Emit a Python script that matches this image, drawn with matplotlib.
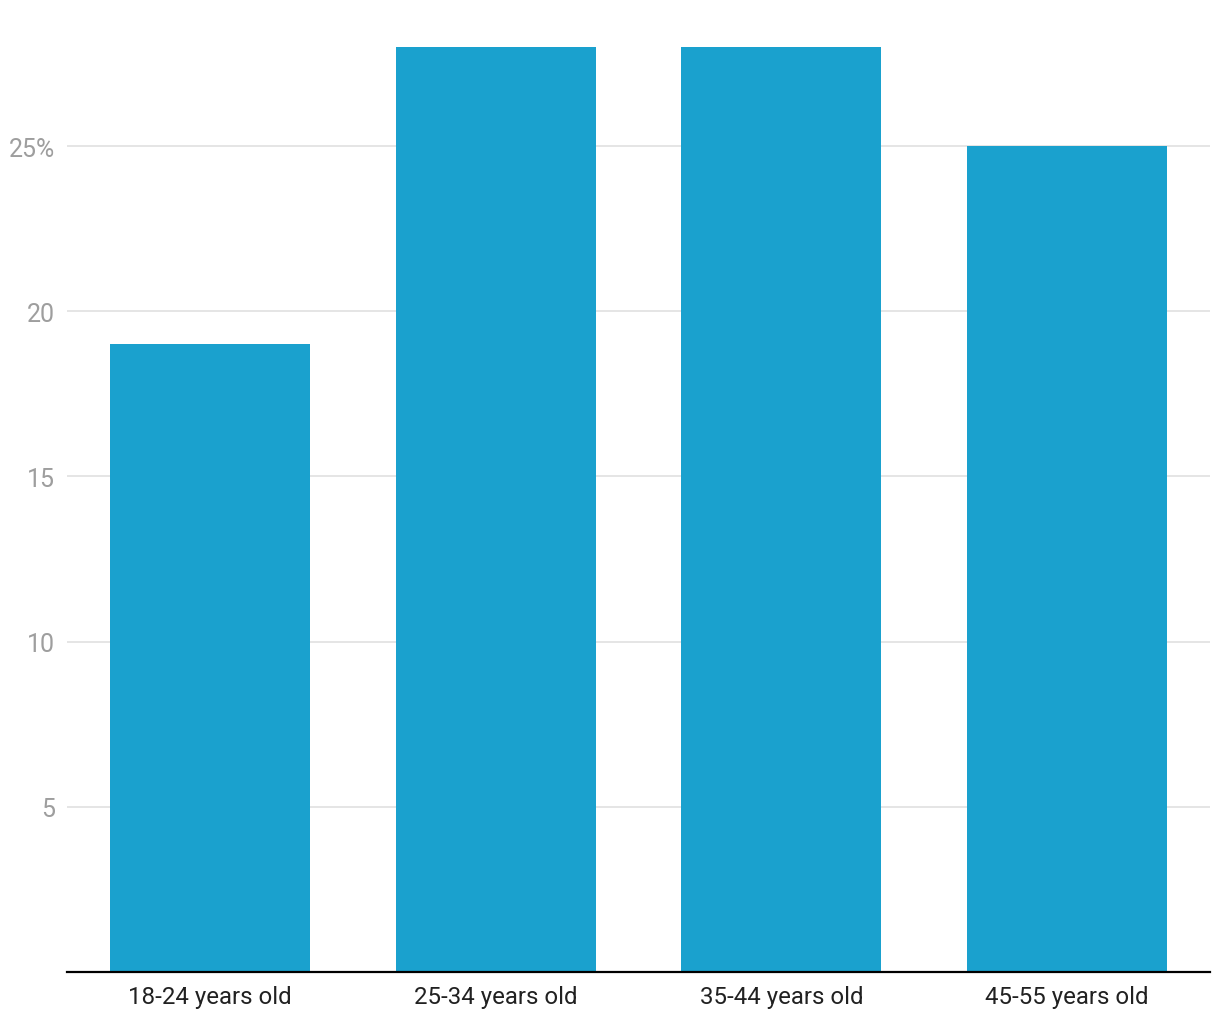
import numpy as np
import matplotlib
matplotlib.use("Agg")
import matplotlib.pyplot as plt

plt.rcParams['font.family'] = ['Roboto', 'DejaVu Sans']

grupos = ['18-24 years old', '25-34 years old', '35-44 years old', '45-55 years old']
valores = [19, 28, 28, 25]
ticks_y = [5, 10, 15, 20, 25]
etiquetas_y = ['5', '10', '15', '20', '25%']

fig = plt.figure(figsize=(12.2, 10.2), dpi=100)
ax = fig.add_axes([67 / 1220, 47 / 1020, 1143 / 1220, 925 / 1020])

x = np.arange(len(grupos))
ax.bar(x, valores, width=0.7, color='#1aa1ce', zorder=2)

ax.set_xlim(-0.5, len(grupos) - 0.5)
ax.set_ylim(0, 28)

ax.set_yticks(ticks_y)
ax.set_yticklabels(etiquetas_y)
ax.set_xticks(x)
ax.set_xticklabels(grupos)

ax.grid(axis='y', color='#e0e0e0', linewidth=1.2, zorder=0)
ax.tick_params(axis='y', length=0, pad=8.5, labelsize=18, labelcolor='#9e9e9e')
ax.tick_params(axis='x', length=0, pad=9.5, labelsize=17.3, labelcolor='#212121')

for lado in ['top', 'right', 'left']:
    ax.spines[lado].set_visible(False)
ax.spines['bottom'].set_color('#000000')
ax.spines['bottom'].set_linewidth(1.6)
ax.spines['bottom'].set_zorder(3)

fig.savefig('out.png', dpi=100)
